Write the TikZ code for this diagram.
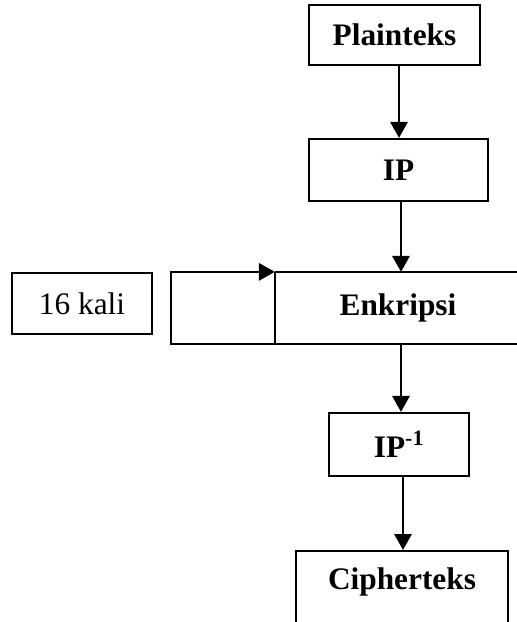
\documentclass[tikz,border=0pt]{standalone}
\usepackage{fontspec}
\setmainfont{Liberation Serif}
\usetikzlibrary{arrows.meta}

\begin{document}
\begin{tikzpicture}[x=0.75pt,y=-0.75pt,
  box/.style={draw, line width=1.7pt, rectangle, inner sep=0pt,
    font=\fontsize{23.5}{27}\selectfont\bfseries},
  plainbox/.style={draw, line width=1.7pt, rectangle, inner sep=0pt,
    font=\fontsize{23.5}{27}\selectfont},
  flow/.style={line width=1.7pt, -{Triangle[width=13pt,length=12pt]}},
  edge/.style={line width=1.7pt},
  thinedge/.style={line width=1pt}]

% page frame
\clip (0,0) rectangle (517,622);

% columns used by the vertical connectors and the loop
\coordinate (colA) at (399,0);
\coordinate (colB) at (401,0);
\coordinate (colC) at (403,0);
\coordinate (loopL) at (171,0);

% blocks
\node[box, minimum width=128.25pt, minimum height=45pt] (plain) at (394.5,35) {Plainteks};
\node[box, minimum width=134.25pt, minimum height=46.5pt] (ip) at (398.5,170) {IP};
\node[box, draw=none, minimum width=183pt, minimum height=52.5pt] (enk) at (398,308) {Enkripsi};
\node[plainbox, minimum width=105pt, minimum height=45.75pt] (kali) at (82,303.5) {16 kali};
\node[box, minimum width=105pt, minimum height=47.25pt] (ipinv) at (399,444.5) {IP\textsuperscript{-1}};
\node[box, anchor=north, minimum width=159pt, inner ysep=0pt,
      text height=28.5pt, text depth=31.5pt] (cipher) at (402,550) {Cipherteks};

% encryption block: heavy outline, light left side
\draw[edge] (enk.north west) -- (enk.north east) -- (enk.south east) -- (enk.south west);
\draw[thinedge] (enk.north west) -- (enk.south west);

% round loop back into the encryption block
\draw[flow] (enk.south west) -- (enk.south west -| loopL) |- (enk.north west);

% main flow
\draw[flow] (plain.south -| colA) -- (ip.north -| colA);
\draw[flow] (ip.south -| colB) -- (enk.north -| colB);
\draw[flow] (enk.south -| colB) -- (ipinv.north -| colB);
\draw[flow] (ipinv.south -| colC) -- (cipher.north -| colC);
\end{tikzpicture}
\end{document}
